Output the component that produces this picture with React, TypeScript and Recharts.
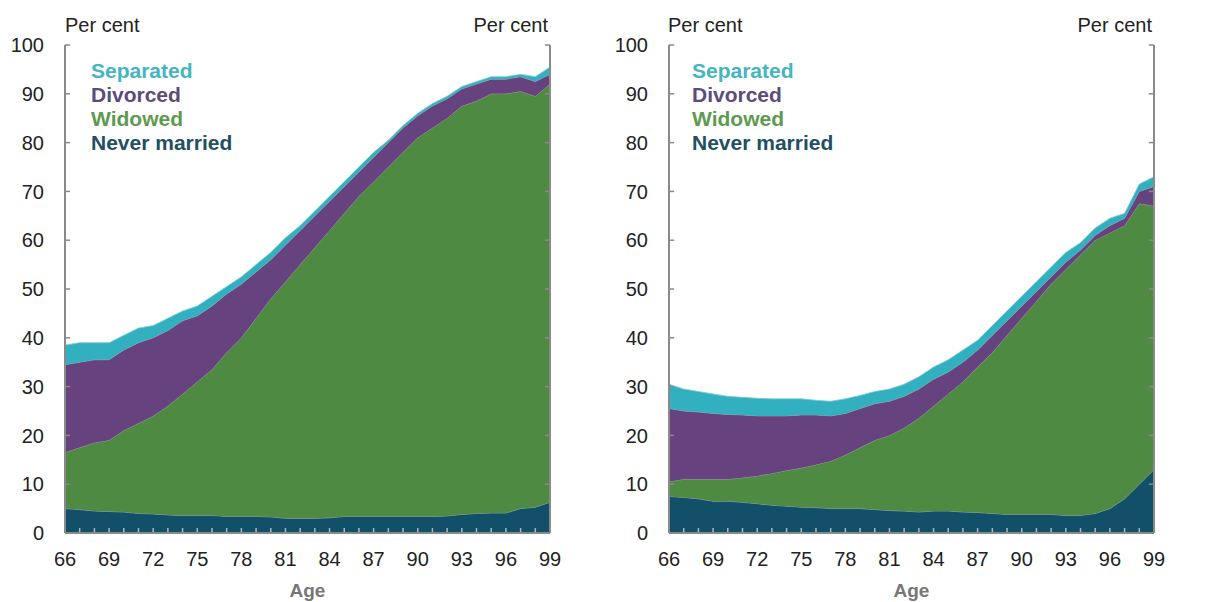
import React from "react";
import { AreaChart, Area, XAxis, YAxis, ReferenceLine } from "recharts";

const ages = [
  66, 67, 68, 69, 70, 71, 72, 73, 74, 75, 76, 77, 78, 79, 80, 81, 82, 83, 84,
  85, 86, 87, 88, 89, 90, 91, 92, 93, 94, 95, 96, 97, 98, 99,
];

// Left panel
const neverMarriedF = [
  5.0, 4.8, 4.5, 4.4, 4.3, 4.0, 3.9, 3.7, 3.6, 3.6, 3.6, 3.4, 3.4, 3.4, 3.3,
  3.0, 3.0, 3.0, 3.1, 3.4, 3.4, 3.4, 3.4, 3.4, 3.4, 3.4, 3.5, 3.8, 4.0, 4.1,
  4.1, 5.0, 5.3, 6.3,
];
const widowedF = [
  11.5, 12.7, 14.0, 14.6, 16.7, 18.5, 20.1, 22.3, 24.9, 27.4, 29.9, 33.6, 36.6,
  40.6, 44.7, 48.5, 52.0, 55.5, 58.9, 62.1, 65.6, 68.6, 71.6, 74.6, 77.6, 79.6,
  81.5, 83.7, 84.5, 85.9, 85.9, 85.5, 84.2, 85.7,
];
const divorcedF = [
  18, 17.5, 17, 16.5, 16.5, 16.5, 16, 15.5, 15, 13.5, 13, 12, 11, 9.5, 8, 7.5,
  7, 6.5, 6, 5.5, 5, 5, 5, 5, 4.5, 4.5, 4, 3.5, 3.5, 3, 3, 3, 3, 2,
];
const separatedF = [
  4, 4, 3.5, 3.5, 3, 3, 2.5, 2.5, 2, 2, 2, 1.5, 1.5, 1.5, 1.5, 1.5, 1, 1, 1, 1,
  1, 1, 0.5, 0.5, 0.5, 0.5, 0.5, 0.5, 0.5, 0.5, 0.5, 0.5, 1, 1.5,
];

// Right panel
const neverMarriedM = [
  7.5, 7.3, 7.0, 6.5, 6.5, 6.3, 6.0, 5.7, 5.5, 5.3, 5.2, 5.0, 5.0, 5.0, 4.8,
  4.6, 4.5, 4.3, 4.5, 4.5, 4.3, 4.2, 4.0, 3.8, 3.8, 3.8, 3.8, 3.6, 3.6, 4.0,
  5.0, 7.0, 10.0, 13.0,
];
const widowedM = [
  3.0, 3.7, 4.0, 4.5, 4.5, 5.0, 5.7, 6.5, 7.3, 8.0, 8.8, 9.7, 11.0, 12.5, 14.2,
  15.4, 17.0, 19.2, 21.5, 24.0, 26.7, 29.8, 33.0, 36.7, 40.2, 43.7, 47.2, 50.4,
  53.4, 56.0, 56.5, 56.0, 57.5, 54.0,
];
const divorcedM = [
  15, 14, 13.8, 13.5, 13.3, 12.9, 12.3, 11.8, 11.2, 10.9, 10.2, 9.3, 8.5, 8,
  7.5, 7, 6.5, 6, 5.5, 4.5, 4, 3.5, 3.5, 3, 2.5, 2, 1.5, 1.5, 1, 1, 1.5, 1.5,
  2.5, 4,
];
const separatedM = [
  5, 4.5, 4.2, 4, 3.7, 3.6, 3.6, 3.5, 3.5, 3.3, 3, 3, 3, 2.7, 2.5, 2.5, 2.5,
  2.5, 2.5, 2.5, 2.5, 2, 2, 2, 2, 2, 2, 2, 1.5, 1.5, 1.5, 1, 1.5, 2,
];

const yTicks = [0, 10, 20, 30, 40, 50, 60, 70, 80, 90, 100];

const COLORS = {
  never: "#12506a",
  widowed: "#4e8a41",
  divorced: "#66437f",
  separated: "#33b0bf",
};

const FONT = '"Liberation Sans", Arial, sans-serif';

const buildRows = (nm: number[], wd: number[], dv: number[], sp: number[]) =>
  ages.map((age, i) => ({
    age,
    never: nm[i],
    widowed: wd[i],
    divorced: dv[i],
    separated: sp[i],
  }));

const leftRows = buildRows(neverMarriedF, widowedF, divorcedF, separatedF);
const rightRows = buildRows(neverMarriedM, widowedM, divorcedM, separatedM);

const tickFont = { fontSize: 20, fill: "#222", fontFamily: FONT };

type PanelProps = {
  rows: any[];
  width: number;
  leftAxisW: number;
  rightAxisW: number;
};

const Panel = ({ rows, width, leftAxisW, rightAxisW }: PanelProps) => (
  <AreaChart
    width={width}
    height={602}
    data={rows}
    margin={{ top: 45, right: 0, left: 0, bottom: 0 }}
  >
    <XAxis
      dataKey="age"
      type="number"
      domain={[66, 99]}
      ticks={ages}
      interval={0}
      tickFormatter={(v: number) => ((v - 66) % 3 === 0 ? String(v) : "")}
      height={69}
      tickSize={-5}
      tickMargin={24}
      tick={tickFont}
      tickLine={false}
      axisLine={{ stroke: "#8a8a8a", strokeWidth: 2 }}
      label={{
        value: "Age",
        position: "insideBottom",
        offset: 5,
        style: { fontSize: 19, fontWeight: "bold", fill: "#777", fontFamily: FONT },
      }}
    />
    <YAxis
      yAxisId="left"
      orientation="left"
      domain={[0, 100]}
      ticks={yTicks}
      width={leftAxisW}
      tickSize={-5}
      tickMargin={26}
      tick={tickFont}
      tickLine={false}
      axisLine={{ stroke: "#8a8a8a", strokeWidth: 2 }}
    />
    <YAxis
      yAxisId="right"
      orientation="right"
      domain={[0, 100]}
      ticks={yTicks}
      width={rightAxisW}
      tickSize={-5}
      tickMargin={23}
      tick={tickFont}
      tickLine={false}
      axisLine={{ stroke: "#8a8a8a", strokeWidth: 2 }}
    />
    <Area
      yAxisId="left"
      type="linear"
      dataKey="never"
      stackId="a"
      fill={COLORS.never}
      fillOpacity={1}
      stroke="#8aa0aa"
      strokeWidth={0.8}
      isAnimationActive={false}
    />
    <Area
      yAxisId="left"
      type="linear"
      dataKey="widowed"
      stackId="a"
      fill={COLORS.widowed}
      fillOpacity={1}
      stroke="#9a9a9a"
      strokeWidth={0.8}
      isAnimationActive={false}
    />
    <Area
      yAxisId="left"
      type="linear"
      dataKey="divorced"
      stackId="a"
      fill={COLORS.divorced}
      fillOpacity={1}
      stroke="#9a9a9a"
      strokeWidth={0.8}
      isAnimationActive={false}
    />
    <Area
      yAxisId="left"
      type="linear"
      dataKey="separated"
      stackId="a"
      fill={COLORS.separated}
      fillOpacity={1}
      stroke="#7fcbd3"
      strokeWidth={0.8}
      isAnimationActive={false}
    />
    {/* small inward tick marks, drawn over the areas */}
    {ages.map((a) => (
      <ReferenceLine
        key={"x" + a}
        yAxisId="left"
        segment={[
          { x: a, y: 0 },
          { x: a, y: 1 },
        ]}
        stroke="#a9bcc6"
        strokeWidth={1.5}
      />
    ))}
    {yTicks.map((v) => (
      <ReferenceLine
        key={"l" + v}
        yAxisId="left"
        segment={[
          { x: 66, y: v },
          { x: 66.35, y: v },
        ]}
        stroke="#8a8a8a"
        strokeWidth={1.5}
      />
    ))}
    {yTicks.map((v) => (
      <ReferenceLine
        key={"r" + v}
        yAxisId="left"
        segment={[
          { x: 98.65, y: v },
          { x: 99, y: v },
        ]}
        stroke="#8a8a8a"
        strokeWidth={1.5}
      />
    ))}
  </AreaChart>
);

const legendItems = [
  { label: "Separated", color: "#45b5bf" },
  { label: "Divorced", color: "#5b4c7a" },
  { label: "Widowed", color: "#5e9a4f" },
  { label: "Never married", color: "#224f62" },
];

const text = (
  left: number,
  top: number,
  s: string,
  extra: React.CSSProperties = {}
) => (
  <div
    style={{
      position: "absolute",
      left,
      top,
      fontFamily: FONT,
      fontSize: 20,
      lineHeight: "20px",
      color: "#222",
      whiteSpace: "nowrap",
      ...extra,
    }}
  >
    {s}
  </div>
);

const Legend = ({ left }: { left: number }) => (
  <>
    {legendItems.map((it, i) => (
      <div
        key={it.label}
        style={{
          position: "absolute",
          left,
          top: 60 + i * 24,
          fontFamily: FONT,
          fontSize: 21,
          lineHeight: "21px",
          fontWeight: "bold",
          color: it.color,
          whiteSpace: "nowrap",
        }}
      >
        {it.label}
      </div>
    ))}
  </>
);

export default function App() {
  return (
    <div
      style={{
        position: "absolute",
        left: 0,
        top: 0,
        width: 1215,
        height: 602,
        background: "#fff",
        overflow: "hidden",
      }}
    >
      <div style={{ position: "absolute", left: 0, top: 0 }}>
        <Panel rows={leftRows} width={600} leftAxisW={65} rightAxisW={50} />
      </div>
      <div style={{ position: "absolute", left: 600, top: 0 }}>
        <Panel rows={rightRows} width={615} leftAxisW={69} rightAxisW={61} />
      </div>
      {text(65, 15, "Per cent")}
      {text(0, 15, "Per cent", { width: 548, textAlign: "right" })}
      {text(668, 15, "Per cent")}
      {text(0, 15, "Per cent", { width: 1152, textAlign: "right" })}
      <Legend left={91} />
      <Legend left={692} />
    </div>
  );
}
